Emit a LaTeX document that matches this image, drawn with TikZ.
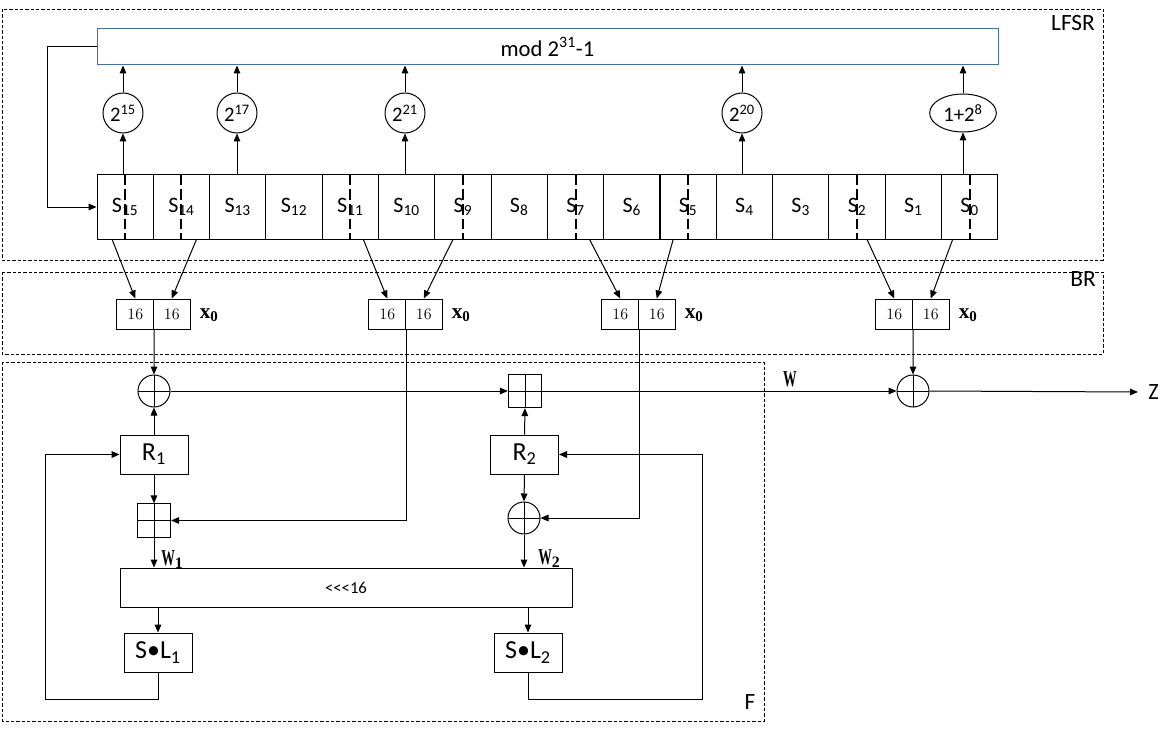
\documentclass[tikz,border=0pt]{standalone}
\usepackage{fontspec}
\usepackage{graphicx}
\setsansfont{Carlito}
\newfontfamily\tnr{Liberation Serif}
\usetikzlibrary{arrows.meta,shapes.geometric,calc}
\definecolor{modblue}{HTML}{41719C}

\begin{document}
\begin{tikzpicture}[x=0.75pt,y=-0.75pt,
  every node/.style={font=\sffamily, text=black},
  ln/.style={line width=0.75pt},
  arr/.style={ln,-{Triangle[length=6pt,width=5pt]}},
  frame/.style={line width=0.6pt, dash pattern=on 2.5pt off 1.5pt},
  cut/.style={line width=1.5pt, dash pattern=on 8pt off 3pt},
  box/.style={draw, ln, rectangle, inner sep=0pt},
  cell/.style={box, minimum width=42.2pt, minimum height=48pt,
    font=\sffamily\fontsize{16.5}{17}\selectfont},
  tap/.style={draw, ln, circle, minimum size=30pt, inner sep=0pt,
    font=\sffamily\fontsize{15.5}{16}\selectfont},
  half/.style={box, minimum width=27.4pt, minimum height=22.5pt,
    font=\rmfamily\fontsize{12}{12}\selectfont},
  xlab/.style={inner sep=0pt, font=\tnr\bfseries\fontsize{16}{16}\selectfont},
  wlab/.style={inner sep=0pt, font=\tnr\bfseries\fontsize{17}{17}\selectfont},
  unit/.style={box, minimum width=51pt, minimum height=29.25pt,
    font=\sffamily\fontsize{19.5}{20}\selectfont},
  oplus/.style={draw, ln, circle, minimum size=24pt, inner sep=0pt,
    path picture={\draw[ln] (path picture bounding box.north) -- (path picture bounding box.south)
      (path picture bounding box.west) -- (path picture bounding box.east);}},
  boxplus/.style={draw, ln, rectangle, minimum size=25pt, inner sep=0pt,
    path picture={\draw[ln] (path picture bounding box.north) -- (path picture bounding box.south)
      (path picture bounding box.west) -- (path picture bounding box.east);}},
  tag/.style={inner sep=0pt, font=\sffamily\fontsize{17.5}{18}\selectfont}
]
\useasboundingbox (0,0) rectangle (1174,731);

% ---------- dashed section frames ----------
\draw[frame] (2,9) rectangle (1103,260);
\draw[frame] (2,272) rectangle (1103,354);
\draw[frame] (2,362) rectangle (764,721);
\node[tag] (lfsrtag) at (1073,23) {LFSR};
\node[tag] (brtag) at (1083,279) {BR};
\node[tag] (ftag) at (750,702) {F};

% ---------- LFSR ----------
\node[draw=modblue, ln, rectangle, minimum width=675.75pt, minimum height=27pt,
  inner sep=0pt, font=\sffamily\fontsize{17}{17}\selectfont] (mod) at (547.5,47)
  {mod 2\textsuperscript{31}-1};

\foreach \i in {0,...,15} {
  \pgfmathtruncatemacro\k{15-\i}
  \node[cell] (s\k) at ({97+56.3*(\i+0.5)},207) {S\textsubscript{\k}};
}
\foreach \k in {15,14,11,9,7,5,2,0}
  \draw[cut] (s\k.north) -- (s\k.south);

% feedback into s15
\draw[arr] (mod.west) -- ++(-49,0) |- (s15.west);

% tap multipliers
\node[tap] (t15) at (123,113) {2\textsuperscript{15}};
\node[tap] (t17) at (237,113) {2\textsuperscript{17}};
\node[tap] (t21) at (405,113) {2\textsuperscript{21}};
\node[tap] (t20) at (742,113) {2\textsuperscript{20}};
\node[draw, ln, ellipse, minimum width=50pt, minimum height=28.5pt, inner sep=0pt,
  font=\sffamily\fontsize{15.5}{16}\selectfont] (t8) at (963,113) {1+2\textsuperscript{8}};

\foreach \t/\s in {t15/s15, t17/s13, t21/s10, t20/s4, t8/s0} {
  \draw[arr] (\t |- \s.north) -- (\t.south);
  \draw[arr] (\t.north) -- (\t |- mod.south);
}

% ---------- bit reorganisation ----------
\foreach \n/\x in {1/117, 2/369, 3/602, 4/876} {
  \node[half] (b\n l) at ({\x+18.25},314) {16};
  \node[half] (b\n r) at ({\x+54.75},314) {16};
  \node[xlab, anchor=west] (x0\n) at ($(b\n r.east)+(9,1)$) {x\textsubscript{0}};
}
\draw[arr] ($(s15.south)+(-13,0)$) -- (b1l.north);
\draw[arr] ($(s14.south)+(15,0)$) -- (b1r.north);
\draw[arr] ($(s11.south)+(13,0)$) -- (b2l.north);
\draw[arr] ($(s9.south)+(-10,0)$) -- (b2r.north);
\draw[arr] ($(s7.south)+(14,0)$) -- (b3l.north);
\draw[arr] ($(s5.south)+(-15,0)$) -- (b3r.north);
\draw[arr] ($(s2.south)+(10,0)$) -- (b4l.north);
\draw[arr] ($(s0.south)+(-17,0)$) -- (b4r.north);

% ---------- F ----------
\node[oplus] (xa) at (154,391) {};
\node[boxplus] (pa) at (525,391) {};
\node[oplus] (xz) at (913,391) {};
\node[unit] (r1) at (154,454.5) {R\textsubscript{1}};
\node[unit] (r2) at (524.5,454.5) {R\textsubscript{2}};
\node[boxplus] (pb) at (154,520.5) {};
\node[oplus] (xb) at (524,518) {};
\node[box, minimum width=339pt, minimum height=29.25pt,
  font=\sffamily\fontsize{12.5}{13}\selectfont] (rot) at (346,587.5) {<{}<{}<16};
\node[unit] (sl1) at (158,652.5) {S\textbullet L\textsubscript{1}};
\node[unit] (sl2) at (528,652.5) {S\textbullet L\textsubscript{2}};
\node[tag, anchor=west] (z) at (1148,392) {\scalebox{0.95}[1]{Z}};

\draw[arr] (b1l.south east) -- (xa.north);
\draw[arr] (r1.north) -- (xa.south);
\draw[arr] (xa.east) -- (pa.west);
\draw[arr] (r2.north) -- (pa.south);
\draw[arr] (pa.east) -- (xz.west);
\draw[arr] (b4l.south east) -- (xz.north);
\draw[arr] (xz.east) -- ($(z.west)+(-10,0)$);
\node[wlab] (wtag) at (790,379) {\scalebox{0.6}[1]{W}};

\draw[arr] (b2l.south east) |- (pb.east);
\draw[arr] (r1.south) -- (pb.north);
\draw[arr] (pb.south) -- (pb |- rot.north);
\node[wlab, anchor=south west] (w1) at (161,569) {\scalebox{0.6}[1]{W}\textsubscript{1}};

\draw[arr] (b3l.south east) |- (xb.east);
\draw[arr] (r2.south) -- (xb.north);
\draw[arr] (xb.south) -- (xb |- rot.north);
\node[wlab, anchor=south west] (w2) at (538,568) {\scalebox{0.6}[1]{W}\textsubscript{2}};

\draw[arr] (sl1 |- rot.south) -- (sl1.north);
\draw[arr] (sl2 |- rot.south) -- (sl2.north);

\coordinate (fb1) at (45,699);
\coordinate (fb2) at (702,699);
\draw[arr] (sl1.south) |- (fb1) |- (r1.west);
\draw[arr] (sl2.south) |- (fb2) |- (r2.east);
\end{tikzpicture}
\end{document}
